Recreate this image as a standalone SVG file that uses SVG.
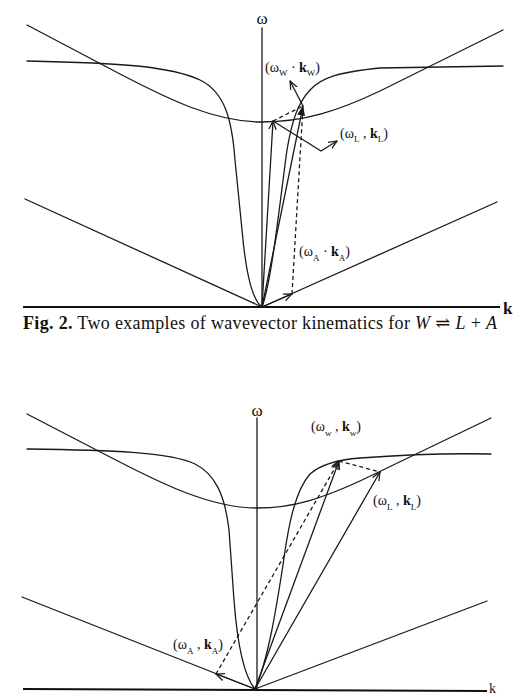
<svg xmlns="http://www.w3.org/2000/svg" width="526" height="697" viewBox="0 0 526 697">
<defs>
<style>
.c{fill:none;stroke:#1a1a1a;stroke-width:1.3;stroke-linecap:round;stroke-linejoin:round}
.ax{fill:none;stroke:#111;stroke-width:1.8}
.d{fill:none;stroke:#1a1a1a;stroke-width:1.3;stroke-dasharray:4 3}
.a{marker-end:url(#ah)}
.af{marker-end:url(#ahf)}
text{font-family:"Liberation Serif","DejaVu Serif",serif;fill:#111}
.lbl{font-size:14px}
.om{font-size:17px}
.sub{font-size:9px}
.b{font-weight:bold}
</style>
<marker id="ah" viewBox="0 0 10 10" refX="9.5" refY="5" markerWidth="9" markerHeight="9" markerUnits="userSpaceOnUse" orient="auto">
<path d="M0,1 L9.5,5 L0,9" fill="none" stroke="#1a1a1a" stroke-width="1.4"/>
</marker>
<marker id="ahf" viewBox="0 0 10 10" refX="9.5" refY="5" markerWidth="10" markerHeight="10" markerUnits="userSpaceOnUse" orient="auto">
<path d="M0,1 L10,5 L0,9 Z" fill="#1a1a1a"/>
</marker>
</defs>
<rect width="526" height="697" fill="#fff"/>

<g id="top-panel">
<g id="top-axes">
<path class="ax" d="M23,307 L500,307"/>
<path class="c" d="M262,28 L262,307"/>
<text x="262" y="24" class="om" text-anchor="middle">ω</text>
<text x="503" y="314" font-size="17" class="b">k</text>
</g>
<g id="top-curves">
<path class="c" d="M27,25 L120,74 C170,100 215,122 262,122 C305,122 340,110 380,91 L503,30"/>
<path class="c" d="M27,61 C120,63 170,66 200,80 C225,92 232,120 235,160 L242,230 C246,275 252,300 262,307"/>
<path class="c" d="M262,307 C272,280 280,200 287,150 C292,120 298,103 310,90 C322,77 340,72 380,68 L503,66"/>
<path class="c" d="M25,199 L262,307 L497,202"/>
</g>
<g id="top-connectors">
<path class="c a" d="M262,307 L273,121"/>
<path class="c af" d="M262,307 L303,106"/>
<path class="c a" d="M262,307 L292,294"/>
<path class="d" d="M292,294 L303,106"/>
<path class="d" d="M273,121 L303,106"/>
<path class="c a" d="M303,106 L290,81"/>
<path class="c a" d="M273,121 L321,151 L337,141"/>
</g>
<g id="top-labels">
<text x="265" y="72" class="lbl">(ω<tspan class="sub" dy="4">W</tspan><tspan dy="-4"> · </tspan><tspan class="b">k</tspan><tspan class="sub" dy="4">W</tspan><tspan dy="-4">)</tspan></text>
<text x="340" y="138" class="lbl">(ω<tspan class="sub" dy="4">L</tspan><tspan dy="-4"> , </tspan><tspan class="b">k</tspan><tspan class="sub" dy="4">L</tspan><tspan dy="-4">)</tspan></text>
<text x="299" y="256" class="lbl">(ω<tspan class="sub" dy="5">A</tspan><tspan dy="-5"> · </tspan><tspan class="b">k</tspan><tspan class="sub" dy="5">A</tspan><tspan dy="-5">)</tspan></text>
</g>
</g>

<g id="caption">
<text x="23" y="329" font-size="18" textLength="474" lengthAdjust="spacing"><tspan class="b">Fig. 2.</tspan> Two examples of wavevector kinematics for <tspan font-style="italic">W</tspan> ⇌ <tspan font-style="italic">L</tspan> + <tspan font-style="italic">A</tspan></text>
</g>

<g id="bottom-panel">
<g id="bottom-axes">
<path class="ax" d="M23,689 L487,691"/>
<path class="c" d="M257,418 L257,689"/>
<text x="257" y="416" class="om" text-anchor="middle">ω</text>
<text x="489" y="693" font-size="14">k</text>
</g>
<g id="bottom-curves">
<path class="c" d="M27,414 L110,457 C160,483 210,508 257,508 C295,508 325,497 360,481 L491,418"/>
<path class="c" d="M27,449 C110,450 170,452 195,464 C215,474 225,495 229,530 L234,600 C237,640 243,675 255,689"/>
<path class="c" d="M255,689 C268,660 276,610 283,565 C289,520 296,490 310,474 C320,465 335,460 360,458 C400,455 440,453 491,454"/>
<path class="c" d="M22,597 L255,689 L487,601"/>
</g>
<g id="bottom-connectors">
<path class="c a" d="M255,689 L339,461"/>
<path class="c a" d="M255,689 L380,472"/>
<path class="c a" d="M255,689 L216,674"/>
<path class="d a" d="M216,674 L339,461"/>
<path class="d" d="M339,461 L380,472"/>
</g>
<g id="bottom-labels">
<text x="311" y="431" class="lbl">(ω<tspan class="sub" dy="5">w</tspan><tspan dy="-5"> , </tspan><tspan class="b">k</tspan><tspan class="sub" dy="5">w</tspan><tspan dy="-5">)</tspan></text>
<text x="373" y="505" class="lbl">(ω<tspan class="sub" dy="5">L</tspan><tspan dy="-5"> , </tspan><tspan class="b">k</tspan><tspan class="sub" dy="5">L</tspan><tspan dy="-5">)</tspan></text>
<text x="173" y="649" class="lbl">(ω<tspan class="sub" dy="5">A</tspan><tspan dy="-5"> , </tspan><tspan class="b">k</tspan><tspan class="sub" dy="5">A</tspan><tspan dy="-5">)</tspan></text>
</g>
</g>
</svg>
